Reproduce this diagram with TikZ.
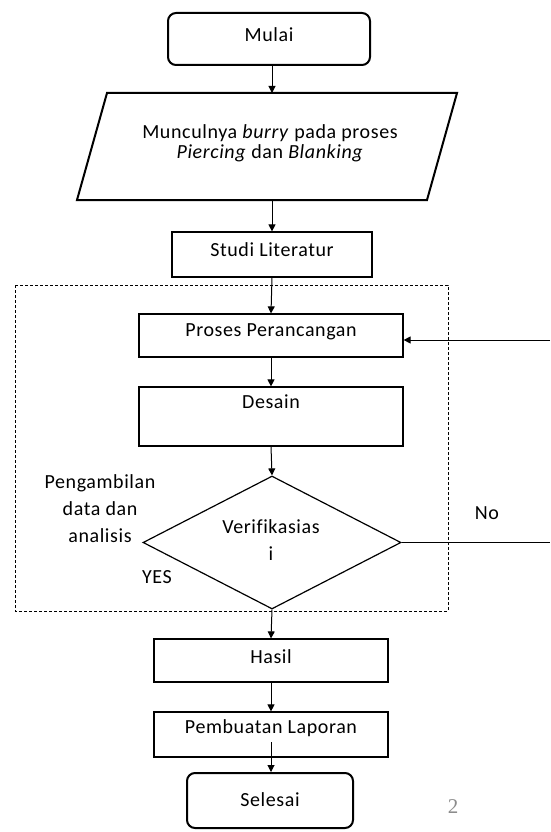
\documentclass[tikz,border=0pt]{standalone}
\usepackage{fontspec}
\setmainfont{Carlito}[LetterSpace=3,Ligatures=NoCommon]
\newfontfamily\numfont{Liberation Serif}
\usetikzlibrary{arrows.meta,shapes.geometric,calc}
\tikzset{
  txt/.style={font=\fontsize{20}{24}\selectfont, inner sep=0pt, align=center},
  boxthin/.style={draw, line width=1.2pt, inner sep=0pt},
  boxthick/.style={draw, line width=2pt, rounded corners=8pt, inner sep=0pt},
  conn/.style={line width=1pt, -{Triangle[length=7pt,width=7pt]}},
  plain/.style={line width=1pt},
}
\begin{document}
\begin{tikzpicture}[x=1pt,y=-1pt]
\useasboundingbox (0,0) rectangle (550,832);
% dashed frame
\draw[line width=1pt, dash pattern=on 3pt off 2pt] (15,285) rectangle (448,611);
% terminators
\node[boxthick, minimum width=202pt, minimum height=52pt] (mulai) at (269,39) {};
\node[txt] (mulaiT) at (269,35) {Mulai};
\node[boxthick, minimum width=166pt, minimum height=55pt] (selesai) at (270,800.5) {};
\node[txt] (selesaiT) at (270,800) {Selesai};
% parallelogram
\coordinate (pTL) at (107,93);
\coordinate (pTR) at (457,93);
\coordinate (pBR) at (427,200);
\coordinate (pBL) at (77,200);
\draw[line width=2pt, line join=miter] (pTL) -- (pTR) -- (pBR) -- (pBL) -- cycle;
\coordinate (parTop) at (272,93);
\coordinate (parBot) at (272,200);
\node[txt, font=\fontsize{20}{20}\selectfont] (parT) at (270,143) {Munculnya \textit{burry} pada proses\\\textit{Piercing} dan \textit{Blanking}};
% process boxes
\node[boxthin, minimum width=200pt, minimum height=45pt] (studi) at (272,254.5) {};
\node[txt] (studiT) at (272,250) {Studi Literatur};
\node[boxthin, minimum width=264pt, minimum height=43pt] (pp) at (271,335.5) {};
\node[txt] (ppT) at (271,332) {Proses Perancangan};
\node[boxthin, minimum width=264pt, minimum height=59pt] (desain) at (271,416.5) {};
\node[txt] (desainT) at (271,402) {Desain};
\node[diamond, draw, line width=1.2pt, inner sep=0pt, minimum width=258pt, minimum height=133pt] (dec) at (272,542.5) {};
\node[txt, font=\fontsize{20}{27}\selectfont] (decT) at (271,540.5) {Verifikasias\\i};
\node[boxthin, minimum width=234pt, minimum height=43pt] (hasil) at (271,660.5) {};
\node[txt] (hasilT) at (271,657) {Hasil};
\node[boxthin, minimum width=234pt, minimum height=45pt] (lap) at (271,734.5) {};
\node[txt] (lapT) at (271,728) {Pembuatan Laporan};
% labels
\node[txt, font=\fontsize{20}{27}\selectfont] (ambil) at (100,508.5) {Pengambilan\\data dan\\analisis};
\node[txt] (yes) at (157,577) {YES};
\node[txt] (no) at (487,513) {No};
\node[font=\numfont\fontsize{21}{24}\selectfont, text=black!45, inner sep=0pt] (pg) at (453,807) {2};
% connectors
\draw[conn] (mulai.south -| parTop) -- (parTop);
\draw[conn] (parBot) -- (studi.north);
\draw[conn] (studi.south) -- (pp.north);
\draw[conn] (pp.south) -- (desain.north);
\draw[conn] (desain.south) -- (dec.north);
\draw[conn] (dec.south) -- (hasil.north);
\draw[conn] (hasil.south) -- (lap.north);
\coordinate (lapIn) at (271,742);
\draw[conn] (lapIn) -- (selesai.north -| lapIn);
\coordinate (noEnd) at (550,542.5);
\coordinate (fbStart) at (550,340);
\draw[plain] (dec.east) -- (noEnd);
\draw[conn] (fbStart) -- (fbStart -| pp.east);
\end{tikzpicture}
\end{document}
